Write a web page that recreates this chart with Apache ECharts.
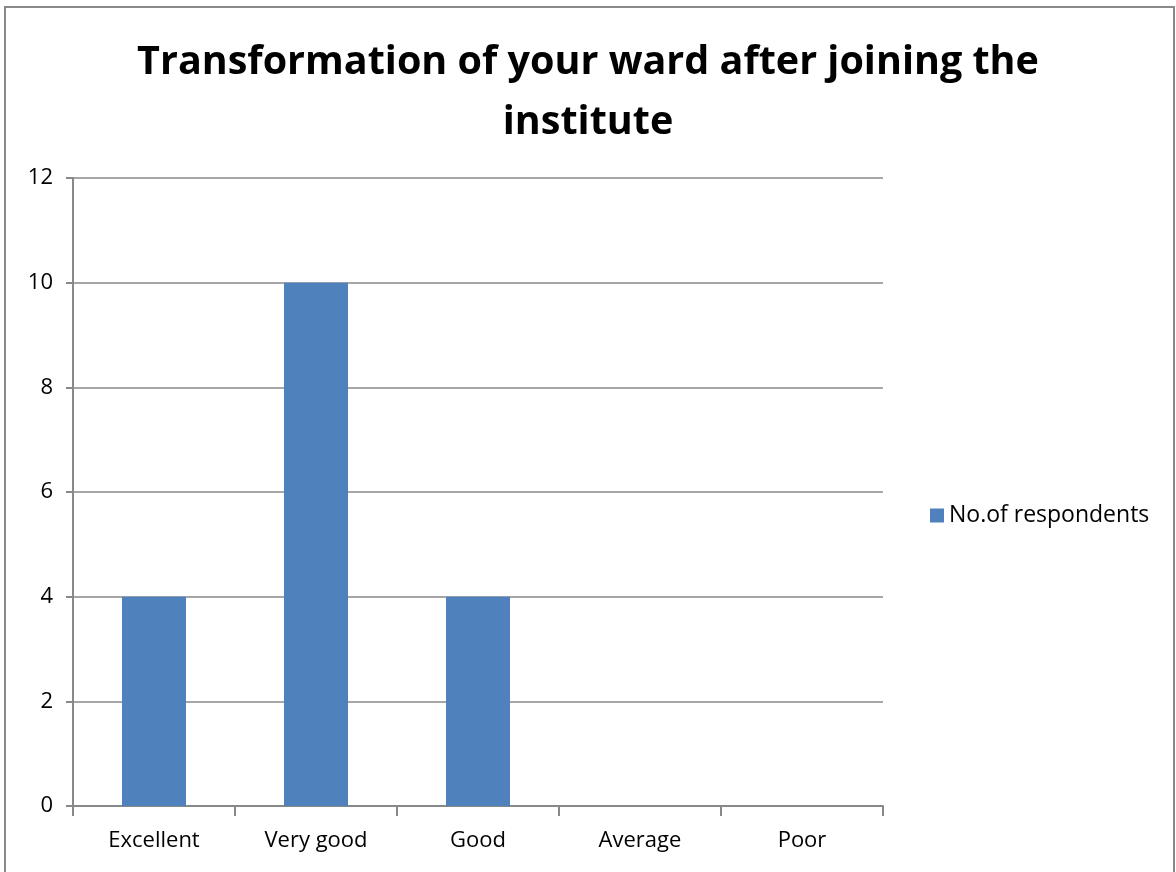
<!DOCTYPE html>
<html>
<head>
<meta charset="utf-8">
<script src="https://cdn.jsdelivr.net/npm/echarts@6/dist/echarts.min.js"></script>
<style>
  html, body { margin: 0; padding: 0; background: #fff; }
  #chart { width: 1176px; height: 872px; }
</style>
</head>
<body>
<div id="chart"></div>
<script>
var categories = ["Excellent", "Very good", "Good", "Average", "Poor"];
var respondents = [4, 10, 4, 0, 0];
var seriesName = "No.of respondents";
var titleText = "Transformation of your ward after joining the\ninstitute";

var chart = echarts.init(document.getElementById("chart"));
var font = "'Open Sans', 'Noto Sans', sans-serif";

var option = {
  backgroundColor: "#fff",
  animation: false,
  title: {
    text: titleText,
    left: "center",
    top: 28,
    textStyle: {
      color: "#000",
      fontSize: 39.5,
      fontWeight: "bold",
      fontFamily: font,
      lineHeight: 60,
    },
  },
  graphic: [
    {
      type: "rect",
      shape: { x: 5, y: 7, width: 1169, height: 880 },
      style: { fill: "none", stroke: "#898989", lineWidth: 2 },
      silent: true,
    },
  ],
  legend: {
    left: 925,
    top: 499,
    itemWidth: 14,
    itemHeight: 14,
    itemGap: 8,
    textStyle: { color: "#000", fontSize: 23, fontFamily: font },
    data: [{ name: seriesName, icon: "rect" }],
  },
  grid: {
    left: 73,
    right: 293,
    top: 178,
    bottom: 66,
  },
  xAxis: {
    type: "category",
    data: categories,
    axisLine: { lineStyle: { color: "#888", width: 2 } },
    axisTick: { show: true, length: 10, lineStyle: { color: "#888", width: 2 } },
    axisLabel: { color: "#000", fontSize: 22, fontFamily: font, margin: 24 },
  },
  yAxis: {
    type: "value",
    min: 0,
    max: 12,
    interval: 2,
    axisLine: { show: true, lineStyle: { color: "#888", width: 2 } },
    axisTick: { show: true, inside: false, length: 7, lineStyle: { color: "#888", width: 2 } },
    splitLine: { lineStyle: { color: "#888", width: 1.5 } },
    axisLabel: { color: "#000", fontSize: 22, fontFamily: font, margin: 20 },
  },
  series: [
    {
      name: seriesName,
      type: "bar",
      data: respondents,
      barWidth: "39.5%",
      itemStyle: { color: "#4F81BD" },
    },
  ],
};
chart.setOption(option);
</script>
</body>
</html>
